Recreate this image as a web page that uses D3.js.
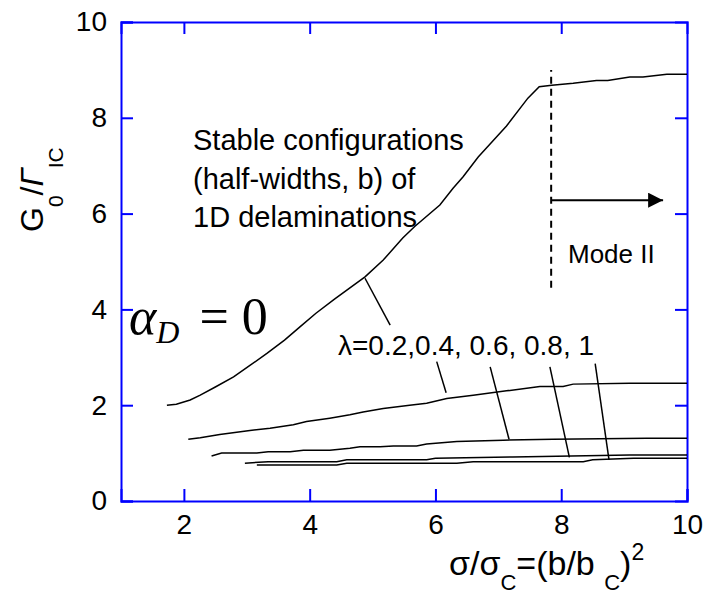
<!DOCTYPE html>
<html><head><meta charset="utf-8">
<script src="https://cdn.jsdelivr.net/npm/d3@7"></script>
<style>
body{margin:0;background:#fff;}
svg{display:block;font-family:Arial,"Liberation Sans",sans-serif;}
</style></head>
<body><svg id="chart" width="708" height="595"></svg>
<script>
// ---- data ----
const xTicks = [2, 4, 6, 8, 10];
const yTicks = [0, 2, 4, 6, 8, 10];
const lambdas = [0.2, 0.4, 0.6, 0.8, 1];

const x02 = [1.73,1.88,2.1,2.26,2.5,2.79,3.05,3.32,3.6,3.85,4.1,4.4,4.88,5.17,5.48,5.67,6.07,6.28,6.44,6.68,7.13,7.47,7.65,7.85,8.19,8.56,8.74,9.09,9.3,9.68,10.0];
const y02 = [2.0,2.02,2.11,2.21,2.38,2.59,2.83,3.08,3.36,3.64,3.92,4.22,4.68,5.03,5.49,5.73,6.18,6.53,6.77,7.18,7.83,8.41,8.65,8.68,8.72,8.78,8.78,8.85,8.85,8.91,8.91];

const x04 = [2.07,2.26,2.57,3.05,3.37,3.74,3.95,4.32,4.64,4.85,5.17,5.59,5.86,6.18,6.6,7.13,7.66,8.03,8.19,9.09,10.0];
const y04 = [1.29,1.32,1.39,1.47,1.52,1.59,1.66,1.73,1.8,1.86,1.93,2.0,2.04,2.14,2.21,2.3,2.39,2.39,2.44,2.46,2.46];

const x06 = [2.44,2.6,3.16,3.34,3.69,3.9,4.32,4.64,4.8,5.12,5.33,5.7,5.86,6.34,7.08,7.87,9.36,10.0];
const y06 = [0.94,1.0,1.0,1.03,1.03,1.06,1.06,1.1,1.13,1.13,1.15,1.15,1.19,1.24,1.27,1.29,1.31,1.31];

const x08 = [2.97,3.34,4.43,4.59,5.86,6.0,7.23,9.09,10.0];
const y08 = [0.79,0.82,0.82,0.86,0.86,0.89,0.92,0.96,0.96];

const x10 = [3.16,4.43,4.59,6.34,6.6,8.35,8.5,9.15,10.0];
const y10 = [0.75,0.75,0.79,0.79,0.82,0.82,0.86,0.89,0.89];

const modeIIx = 7.84;            // dashed boundary
const modeIIy = [4.45, 9.0];
const arrowX = [7.84, 9.62];
const arrowY = 6.28;

// leader lines (curve end -> label end), data units
const leaderX1 = [4.88, 6.17, 7.17, 8.13, 8.76];
const leaderY1 = [4.65, 2.26, 1.29, 0.91, 0.86];
const leaderX2 = [5.28, 6.02, 6.87, 7.82, 8.54];
const leaderY2 = [3.67, 2.91, 2.80, 2.80, 2.87];

// ---- chart ----
const W = 708, H = 595;
const m = {left:121, top:22, right:21, bottom:94};
const iw = W - m.left - m.right, ih = H - m.top - m.bottom;
const svg = d3.select("#chart");
const g = svg.append("g").attr("transform", `translate(${m.left},${m.top})`);

const x = d3.scaleLinear().domain([1, 10]).range([0, iw]);
const y = d3.scaleLinear().domain([0, 10]).range([ih, 0]);
const blue = "#0000ff";
const tl = 12;

// axes
const ax = g.append("g").attr("transform", `translate(0,${ih})`)
  .call(d3.axisBottom(x).tickValues(xTicks).tickSize(-tl).tickPadding(13).tickFormat(d3.format("d")));
const ay = g.append("g")
  .call(d3.axisLeft(y).tickValues(yTicks).tickSize(-tl).tickPadding(14).tickFormat(d3.format("d")));
const at = g.append("g")
  .call(d3.axisTop(x).tickValues(xTicks.slice(0,4)).tickSize(-tl).tickFormat(""));
const ar = g.append("g").attr("transform", `translate(${iw},0)`)
  .call(d3.axisRight(y).tickValues(yTicks.slice(1,5)).tickSize(-tl).tickFormat(""));
[ax, ay, at, ar].forEach(a => {
  a.select(".domain").attr("stroke", blue).attr("stroke-width", 2);
  a.selectAll(".tick line").attr("stroke", blue).attr("stroke-width", 2);
  a.selectAll(".tick text").attr("fill", "#000").attr("font-size", 28)
    .attr("font-family", "Arial, 'Liberation Sans', sans-serif");
});

// curves
const line = d3.line().x(d => x(d[0])).y(d => y(d[1]));
const series = [[x02,y02],[x04,y04],[x06,y06],[x08,y08],[x10,y10]];
series.forEach(([xs, ys]) => {
  g.append("path").datum(xs.map((v,i) => [v, ys[i]]))
    .attr("d", line).attr("fill", "none").attr("stroke", "#000").attr("stroke-width", 1.5);
});

// leaders
leaderX1.forEach((v,i) => {
  g.append("line").attr("x1", x(v)).attr("y1", y(leaderY1[i]))
    .attr("x2", x(leaderX2[i])).attr("y2", y(leaderY2[i]))
    .attr("stroke", "#000").attr("stroke-width", 1.5);
});

// Mode II boundary
g.append("line").attr("x1", x(modeIIx)).attr("x2", x(modeIIx))
  .attr("y1", y(modeIIy[0])).attr("y2", y(modeIIy[1]))
  .attr("stroke", "#000").attr("stroke-width", 2).attr("stroke-dasharray", "7,5");
svg.append("defs").append("marker").attr("id", "ah")
  .attr("viewBox", "0 0 10 10").attr("refX", 10).attr("refY", 5)
  .attr("markerWidth", 15).attr("markerHeight", 15).attr("markerUnits", "userSpaceOnUse")
  .attr("orient", "auto")
  .append("path").attr("d", "M0,0L10,5L0,10Z").attr("fill", "#000");
g.append("line").attr("x1", x(arrowX[0])).attr("x2", x(arrowX[1]))
  .attr("y1", y(arrowY)).attr("y2", y(arrowY))
  .attr("stroke", "#000").attr("stroke-width", 2).attr("marker-end", "url(#ah)");

// texts
svg.append("text").attr("x", 568).attr("y", 263).attr("font-size", 26).text("Mode II");

const tb = svg.append("text").attr("font-size", 29);
["Stable configurations", "(half-widths, b) of", "1D delaminations"].forEach((t,i) => {
  tb.append("tspan").attr("x", 193).attr("y", 150 + i*38.5).text(t);
});

svg.append("text").attr("x", 338).attr("y", 355).attr("font-size", 28)
  .text("\u03bb=" + lambdas.slice(0,2).join(",") + ", " + lambdas.slice(2).join(", "));

// alpha_D = 0
const al = svg.append("text").attr("x", 129).attr("y", 334)
  .attr("font-family", "'Liberation Serif','DejaVu Serif',serif").attr("font-size", 52);
al.append("tspan").attr("font-style", "italic").text("\u03b1");
al.append("tspan").attr("font-style", "italic").attr("font-size", 32).attr("dy", 9).text("D");
al.append("tspan").attr("dy", -9).attr("dx", 20).text("= 0");

// x label
const xl = svg.append("text").attr("x", 449).attr("y", 575).attr("font-size", 34);
xl.append("tspan").text("\u03c3/\u03c3");
xl.append("tspan").attr("font-size", 22).attr("dy", 15).text("C");
xl.append("tspan").attr("dy", -15).text("=(b/b ");
xl.append("tspan").attr("font-size", 22).attr("dy", 15).text("C");
xl.append("tspan").attr("dy", -15).text(")");
xl.append("tspan").attr("font-size", 23).attr("dy", -15).text("2");

// y label
const yl = svg.append("text").attr("transform", "translate(43,232) rotate(-90)")
  .attr("font-size", 32);
yl.append("tspan").text("G");
yl.append("tspan").attr("font-size", 21).attr("dy", 20).text("0");
yl.append("tspan").attr("dy", -20).text("/");
yl.append("tspan").attr("font-style", "italic").text("\u0393");
yl.append("tspan").attr("font-size", 21).attr("dy", 20).text("IC");
</script></body></html>
